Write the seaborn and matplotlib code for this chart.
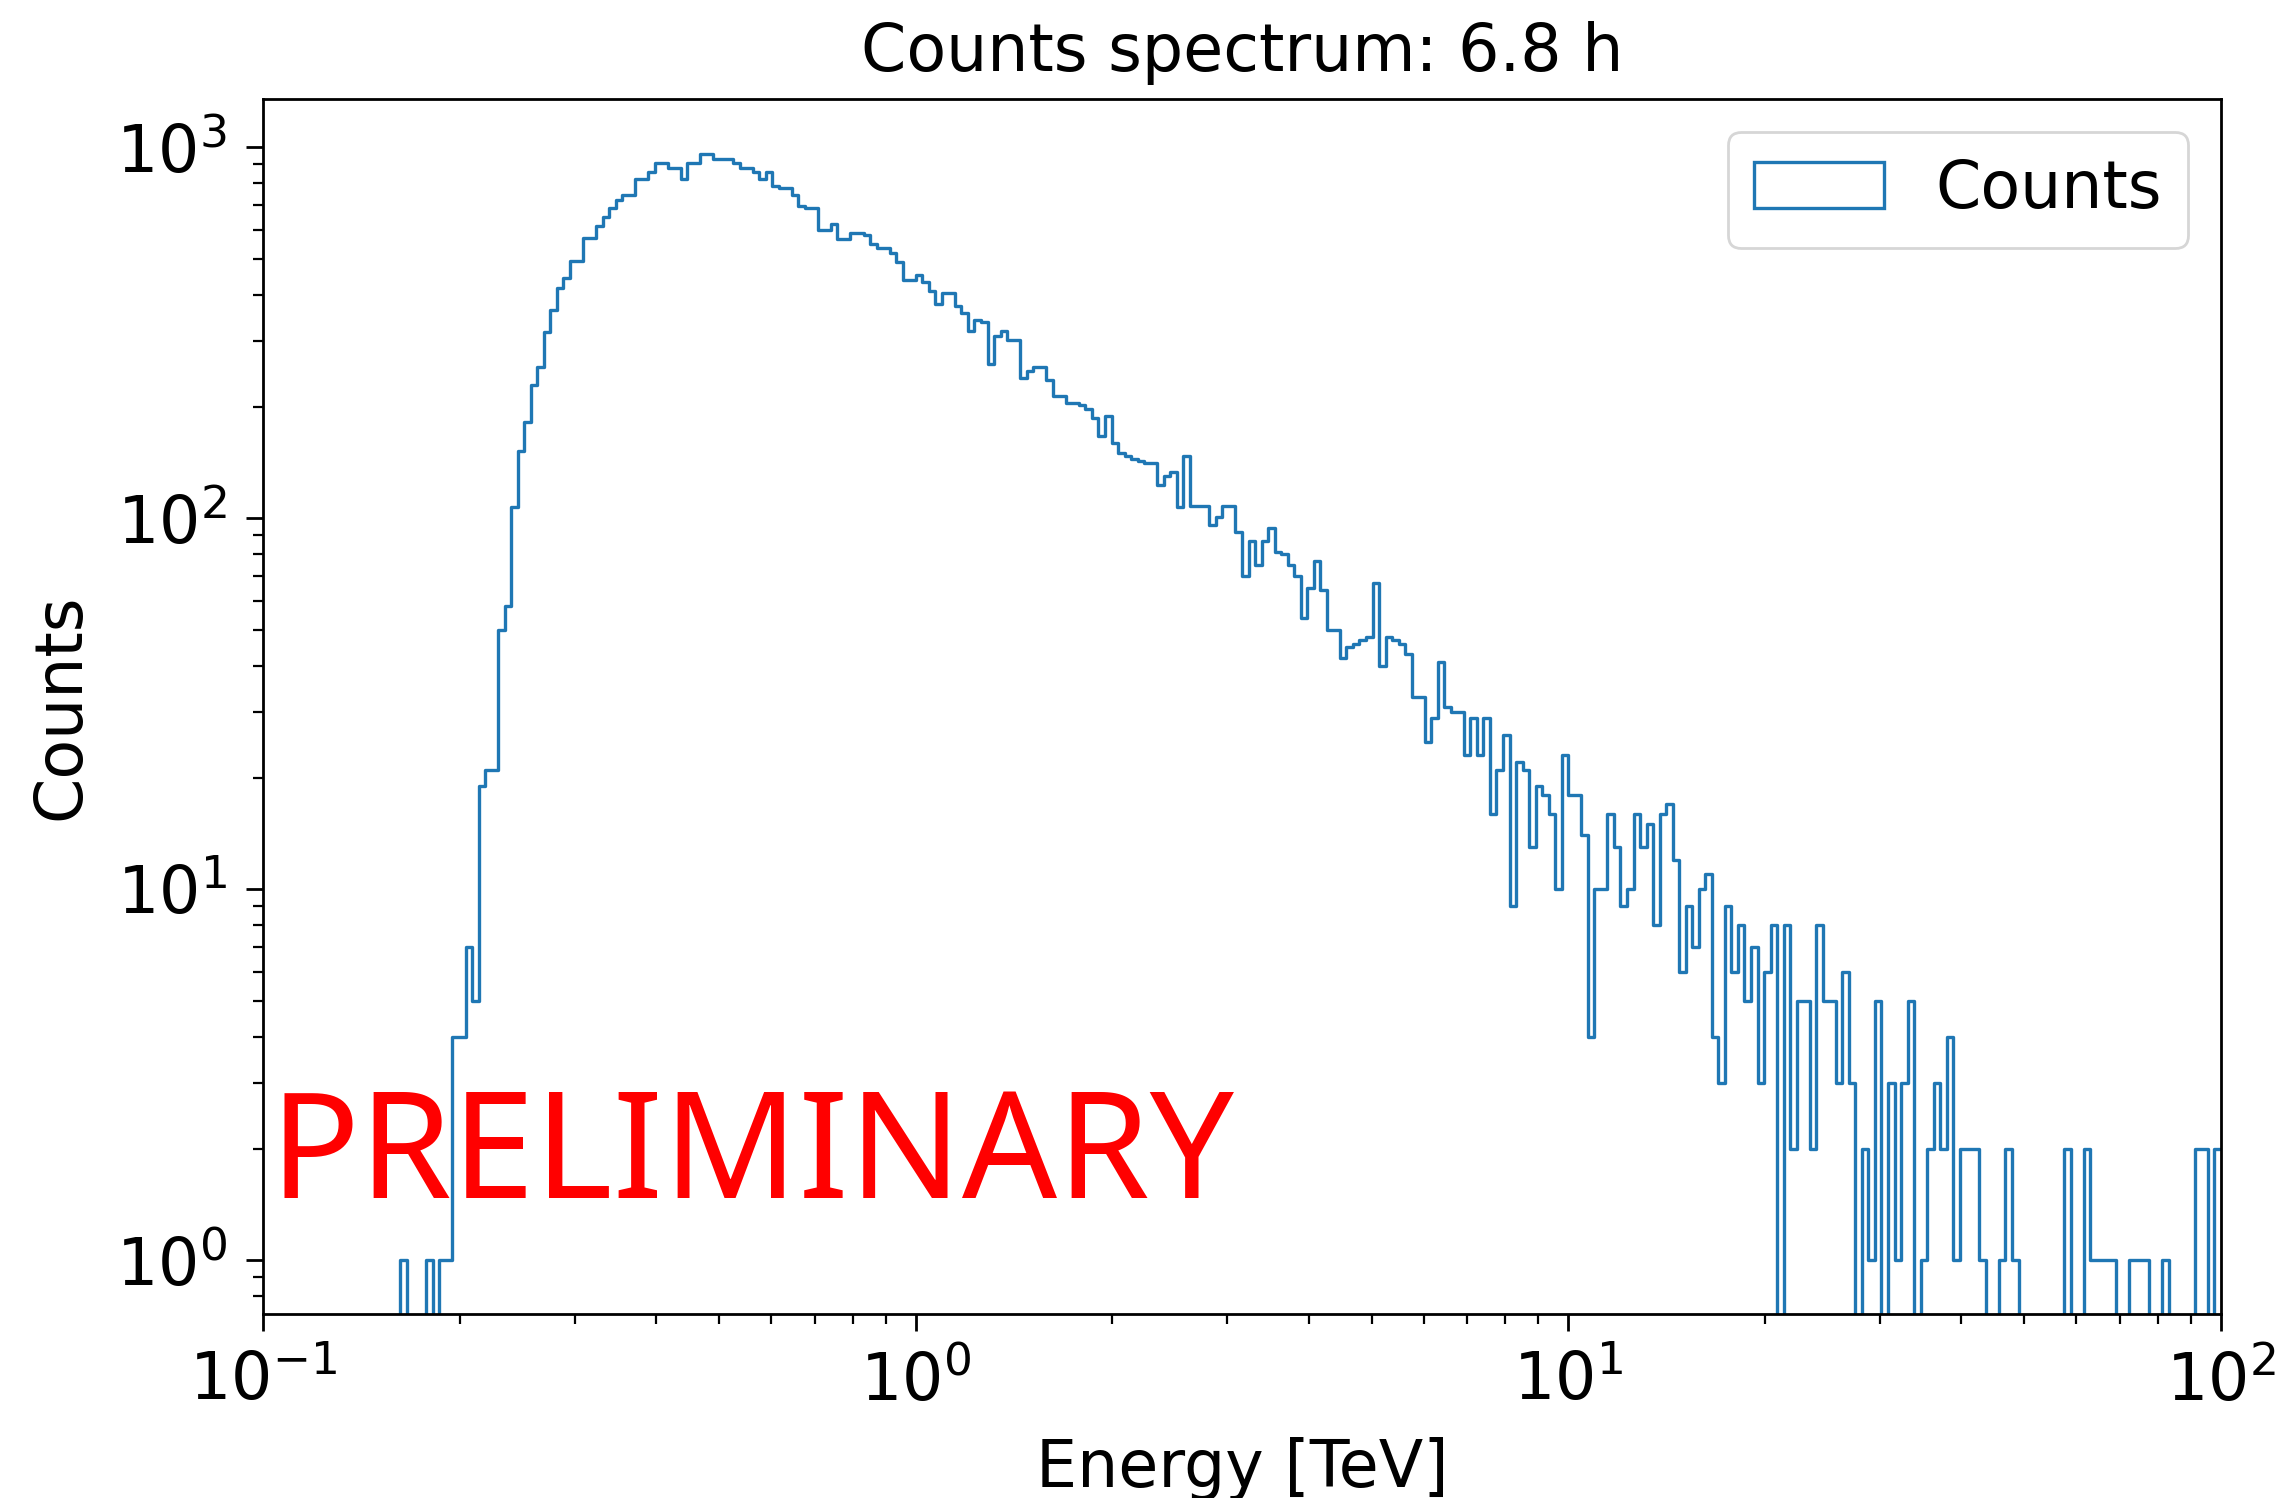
import numpy as np
import matplotlib
matplotlib.use("Agg")
import matplotlib.pyplot as plt
from matplotlib.patches import Patch
import seaborn as sns

# ---- data -------------------------------------------------------------
E_MIN, E_MAX, N_BINS = 0.1, 100.0, 300          # log-spaced energy bins [TeV]

# counts per bin, bins 0-28 : threshold region
counts_threshold = [0] * 21 + [1, 0, 0, 0, 1, 0, 1, 1]
# bins 29-98 : rise and peak
counts_peak = [
    4, 4, 7, 5, 19, 21, 21, 50, 58, 107,
    152, 182, 229, 256, 318, 365, 419, 445, 495, 495,
    569, 569, 612, 650, 686, 720, 746, 746, 822, 822,
    860, 906, 906, 881, 881, 822, 906, 906, 957, 957,
    931, 931, 931, 906, 881, 881, 857, 822, 857, 788,
    778, 778, 746, 695, 686, 686, 597, 597, 622, 565,
    565, 589, 589, 580, 549, 534, 534, 520, 492, 440,
]
# bins 99-188 : power-law fall-off
counts_falloff = [
    440, 453, 434, 411, 378, 405, 405, 373, 357, 320,
    343, 338, 260, 310, 320, 303, 303, 239, 249, 256,
    256, 236, 214, 214, 205, 205, 202, 197, 186, 167,
    189, 160, 150, 147, 145, 143, 141, 141, 123, 130,
    133, 107, 147, 108, 108, 108, 96, 101, 108, 108,
    92, 70, 87, 75, 87, 94, 81, 80, 75, 70,
    54, 65, 77, 64, 50, 50, 42, 45, 46, 47,
    48, 67, 40, 48, 47, 46, 43, 33, 33, 25,
    29, 41, 31, 30, 30, 23, 29, 23, 29, 16,
]
# bins 189-299 : high-energy tail
counts_tail = [
    21, 26, 9, 22, 21, 13, 19, 18, 16, 10,
    23, 18, 18, 14, 4, 10, 10, 16, 13, 9,
    10, 16, 13, 15, 8, 16, 17, 12, 6, 9,
    7, 10, 11, 4, 3, 9, 6, 8, 5, 7,
    3, 6, 8, 0, 8, 2, 5, 5, 2, 8,
    5, 5, 3, 6, 3, 0, 2, 1, 5, 0,
    3, 1, 3, 5, 0, 1, 2, 3, 2, 4,
    1, 2, 2, 2, 1, 0, 0, 1, 2, 1,
    0, 0, 0, 0, 0, 0, 0, 2, 0, 0,
    2, 1, 1, 1, 1, 0, 0, 1, 1, 1,
    0, 0, 1, 0, 0, 0, 0, 2, 2, 0, 2,
]

counts = np.array(counts_threshold + counts_peak + counts_falloff + counts_tail, dtype=float)

title_text = "Counts spectrum: 6.8 h"
x_label = "Energy [TeV]"
y_label = "Counts"
legend_label = "Counts"
watermark = "PRELIMINARY"

# ---- figure -----------------------------------------------------------
FS = 23.4
plt.rcParams.update({
    "font.family": ["DejaVu Sans"],
    "font.size": FS,
    "axes.linewidth": 1.0,
    "xtick.major.size": 6.0, "ytick.major.size": 6.0,
    "xtick.minor.size": 3.5, "ytick.minor.size": 3.5,
    "xtick.major.width": 1.0, "ytick.major.width": 1.0,
    "xtick.minor.width": 0.8, "ytick.minor.width": 0.8,
    "xtick.major.pad": 7, "ytick.major.pad": 7,
    "xtick.labelsize": FS, "ytick.labelsize": FS,
})

fig = plt.figure(figsize=(11.425, 7.49), dpi=200)
ax = fig.add_axes([0.1152, 0.1228, 0.9719 - 0.1152, 0.9339 - 0.1228])

lo, hi = np.log10(E_MIN), np.log10(E_MAX)
log_edges = np.linspace(lo, hi, N_BINS + 1)
centers = 10 ** (0.5 * (log_edges[:-1] + log_edges[1:]))

color = "#1f77b4"
sns.histplot(x=centers, weights=counts, bins=N_BINS, binrange=(lo, hi),
             element="step", fill=False, log_scale=(True, False),
             color=color, linewidth=1.2, ax=ax)
# log count axis; empty bins drop to the bottom like a matplotlib step histogram
ax.set_yscale("log", nonpositive="clip")

ax.set_xlim(E_MIN, E_MAX)
ax.set_ylim(0.717, 1350)
ax.set_title(title_text, fontsize=FS, pad=10)
ax.set_xlabel(x_label, fontsize=FS, labelpad=8)
ax.set_ylabel(y_label, fontsize=FS, labelpad=8)

handle = Patch(facecolor="none", edgecolor=color, linewidth=1.2, label=legend_label)
ax.legend(handles=[handle], loc="upper right", fontsize=FS)

fig.text(270 / 2285, 1 - 1198 / 1498, watermark, color="#ff0000",
         fontsize=53.6, family=["Noto Sans", "DejaVu Sans"], va="baseline", ha="left",
         zorder=10)

fig.savefig("out.png", dpi=200)
